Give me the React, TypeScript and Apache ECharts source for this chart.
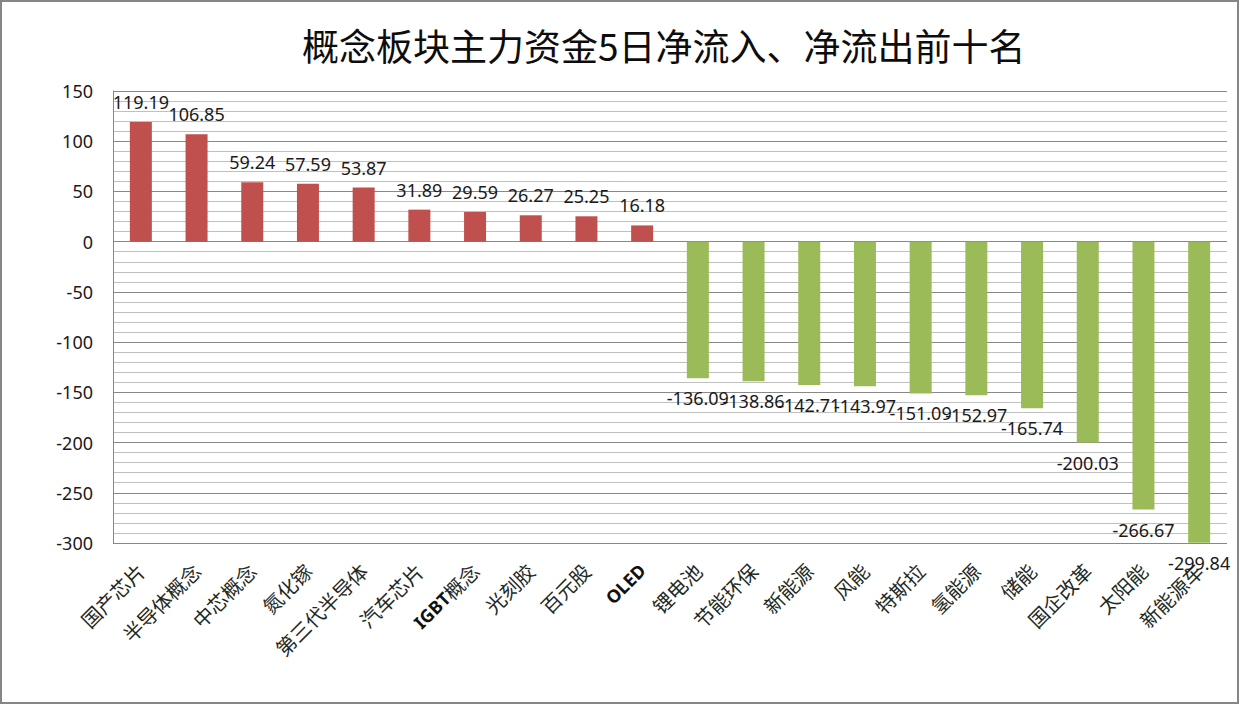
import React, { useEffect, useRef } from "react";
import * as echarts from "echarts";

const titleText = "概念板块主力资金5日净流入、净流出前十名";

const categories = [
  "国产芯片", "半导体概念", "中芯概念", "氮化镓", "第三代半导体",
  "汽车芯片", "IGBT概念", "光刻胶", "百元股", "OLED",
  "锂电池", "节能环保", "新能源", "风能", "特斯拉",
  "氢能源", "储能", "国企改革", "太阳能", "新能源车",
];

const values = [
  119.19, 106.85, 59.24, 57.59, 53.87,
  31.89, 29.59, 26.27, 25.25, 16.18,
  -136.09, -138.86, -142.71, -143.97, -151.09,
  -152.97, -165.74, -200.03, -266.67, -299.84,
];

const yMin = -300;
const yMax = 150;
const yInterval = 50;

const inflowColor = "#C0504D";
const outflowColor = "#9BBB59";

export default function App() {
  const ref = useRef<HTMLDivElement>(null);

  useEffect(() => {
    document.body.style.margin = "0";
    if (!ref.current) return;
    const chart = echarts.init(ref.current, null, { renderer: "svg" });
    const numFont = "'Noto Sans', 'Noto Sans CJK SC', sans-serif";
    const cjkFont = "'Noto Sans CJK SC', 'Noto Sans', sans-serif";

    const data = values.map((v) => ({
      value: v,
      itemStyle: { color: v >= 0 ? inflowColor : outflowColor },
      label: { position: v >= 0 ? "top" : "bottom" },
    }));

    chart.setOption({
      animation: false,
      backgroundColor: "#ffffff",
      title: {
        text: titleText,
        left: 297,
        top: 21,
        textStyle: {
          fontFamily: cjkFont,
          fontSize: 37,
          fontWeight: "normal",
          color: "#0d0d0d",
        },
      },
      graphic: [
        {
          type: "rect",
          shape: { x: 1, y: 1, width: 1237, height: 702 },
          style: { fill: "none", stroke: "#868686", lineWidth: 2 },
          silent: true,
          z: -1,
        },
      ],
      grid: { left: 113, right: 14, top: 91, bottom: 163 },
      xAxis: {
        type: "category",
        data: categories,
        axisLine: { show: false },
        axisTick: { show: false },
        axisLabel: {
          interval: 0,
          rotate: 45,
          margin: 24,
          fontFamily: cjkFont,
          fontSize: 20,
          color: "#1f2a1f",
          formatter: (val: string) => {
            const m = val.match(/^([A-Za-z]+)(.*)$/);
            if (m) return "{b|" + m[1] + "}" + m[2];
            return val;
          },
          rich: {
            b: {
              fontFamily: numFont,
              fontWeight: "bold",
              fontSize: 18,
              color: "#111",
            },
          },
        },
      },
      yAxis: {
        type: "value",
        min: yMin,
        max: yMax,
        interval: yInterval,
        axisLine: { show: true, lineStyle: { color: "#868686", width: 1 } },
        axisTick: { show: false },
        axisLabel: {
          margin: 20,
          fontFamily: numFont,
          fontSize: 18,
          color: "#1a1a1a",
        },
        splitLine: { show: true, lineStyle: { color: "#888888", width: 1 } },
        minorTick: { show: false, splitNumber: 5 },
        minorSplitLine: { show: true, lineStyle: { color: "#c0c0c0", width: 1 } },
      },
      series: [
        {
          type: "bar",
          data,
          barWidth: 22,
          label: {
            show: true,
            distance: 11,
            fontFamily: numFont,
            fontSize: 18,
            color: "#1a1a1a",
            formatter: (p: any) => String(p.value),
          },
        },
      ],
    });

    return () => chart.dispose();
  }, []);

  return <div ref={ref} style={{ width: 1241, height: 706 }} />;
}
